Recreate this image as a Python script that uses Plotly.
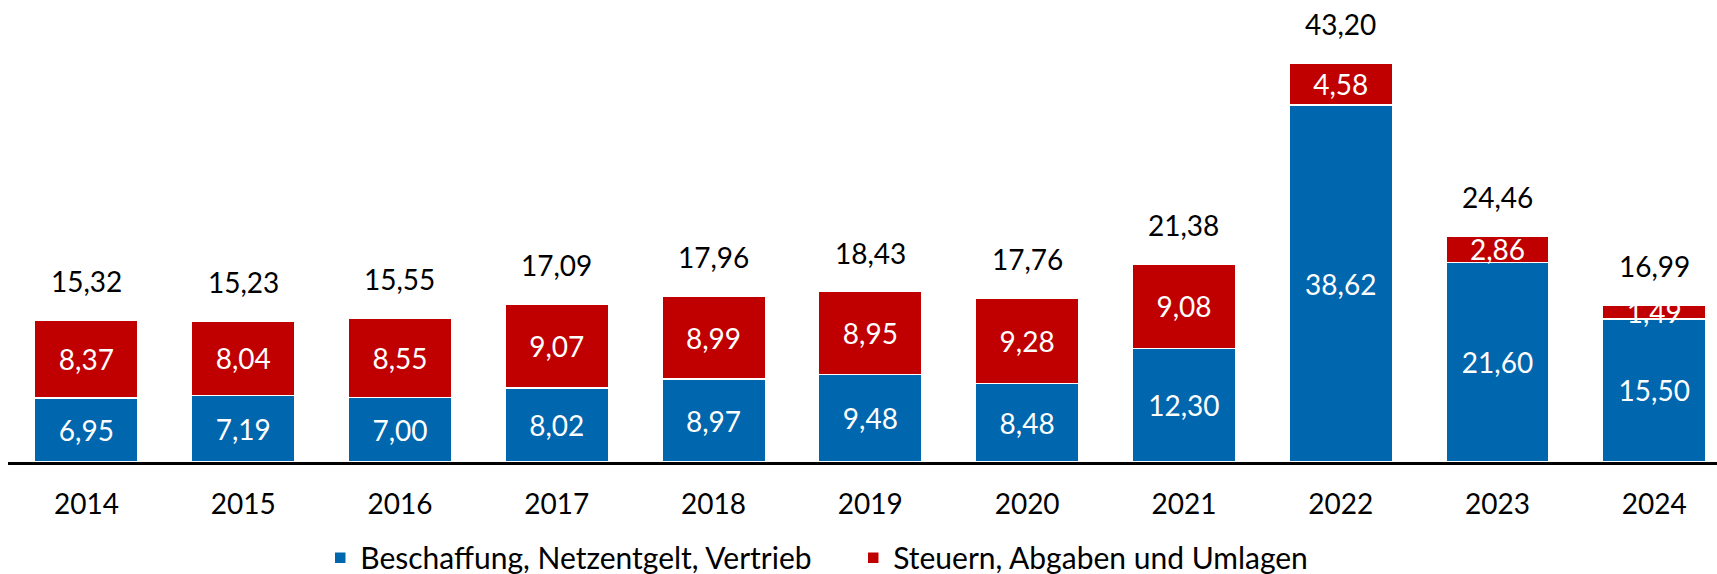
import plotly.graph_objects as go

years = ["2014", "2015", "2016", "2017", "2018", "2019", "2020", "2021", "2022", "2023", "2024"]
beschaffung = [6.95, 7.19, 7.00, 8.02, 8.97, 9.48, 8.48, 12.30, 38.62, 21.60, 15.50]
steuern = [8.37, 8.04, 8.55, 9.07, 8.99, 8.95, 9.28, 9.08, 4.58, 2.86, 1.49]
totals = [15.32, 15.23, 15.55, 17.09, 17.96, 18.43, 17.76, 21.38, 43.20, 24.46, 16.99]

FONT = "Lato"
BLUE = "#0066AE"
RED = "#C00000"
FS = 28

fig = go.Figure()
fig.add_trace(go.Bar(
    x=years, y=beschaffung, name="Beschaffung, Netzentgelt, Vertrieb",
    marker=dict(color=BLUE, line=dict(color="white", width=1.5)),
    texttemplate="%{y:.2f}", textposition="inside", insidetextanchor="middle",
    textangle=0, textfont=dict(color="white", size=FS, family=FONT),
    constraintext="none",
))
fig.add_trace(go.Bar(
    x=years, y=steuern, name="Steuern, Abgaben und Umlagen",
    marker=dict(color=RED, line=dict(color="white", width=1.5)),
    texttemplate="%{y:.2f}", textposition="inside", insidetextanchor="middle",
    textangle=0, textfont=dict(color="white", size=FS, family=FONT),
    constraintext="none",
))

for i, t in enumerate(totals):
    fig.add_annotation(
        x=i, xref="x", y=t, yref="y", text=f"{t:.2f}".replace(".", ","), showarrow=False,
        yanchor="bottom", yshift=20, font=dict(size=FS, family=FONT, color="black"),
    )

fig.update_layout(
    barmode="stack", bargap=0.34,
    separators=",.",
    width=1717, height=574,
    margin=dict(l=8, r=0, t=0, b=112, autoexpand=False),
    paper_bgcolor="white", plot_bgcolor="white",
    font=dict(family=FONT, size=FS, color="black"),
    uniformtext=dict(mode="show", minsize=FS),
    showlegend=True,
    legend=dict(orientation="h", x=0.1827, xanchor="left", y=-0.207, yanchor="middle",
                font=dict(size=30, family=FONT), entrywidth=488, traceorder="normal",
                bgcolor="rgba(0,0,0,0)"),
    xaxis=dict(type="category", range=[-0.5, 10.4], showline=True, linecolor="black",
               linewidth=2.5, ticks="outside", ticklen=16, tickcolor="rgba(0,0,0,0)",
               showgrid=False, tickfont=dict(size=FS, family=FONT)),
    yaxis=dict(range=[0, 50], visible=False, showgrid=False),
)

fig.write_html("out.html", config={"displayModeBar": False},
               post_script="document.body.style.margin='0';")
